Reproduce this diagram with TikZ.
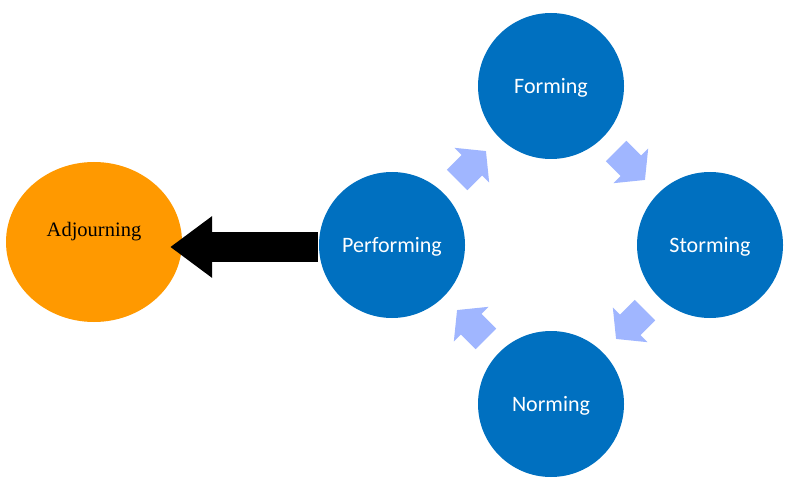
\documentclass[tikz,border=0pt]{standalone}
\usepackage{xcolor}
\usepackage{fontspec}
\setmainfont{Carlito}
\newfontfamily\adjfont{Liberation Serif}
\usepackage{tikz}
\usetikzlibrary{arrows.meta,calc,shapes.geometric}

\definecolor{stageblue}{RGB}{0,112,192}
\definecolor{stepblue}{RGB}{160,182,255}
\definecolor{adjorange}{RGB}{255,153,0}

\begin{document}
\begin{tikzpicture}[x=1pt,y=-1pt,
    stage/.style={fill=stageblue,draw=none,text=white,shape=circle,minimum size=146pt,inner sep=0pt,text height=19pt,text depth=4pt,font=\fontsize{22}{26}\selectfont},
    flow/.style={draw=stepblue,line width=29pt,-{Triangle[length=20pt,width=48pt]}}]
                    \useasboundingbox (0,0) rectangle (794,489);
                    \node[stage] (F) at (551,86) {Forming};
                    \node[stage] (S) at (710,245) {Storming};
                    \node[stage] (N) at (551,404) {Norming};
                    \node[stage] (P) at (392,245) {Performing};
                    \node[fill=adjorange,draw=none,text=black,shape=ellipse,minimum width=176pt,minimum height=160pt,inner sep=0pt,text height=14pt,text depth=26pt,font=\adjfont\fontsize{20.5}{24}\selectfont] (A) at (94,242) {Adjourning};

                    \draw[flow] ($(P)!0.409!(F)$) -- ($(P)!0.591!(F)$);
                    \draw[flow] ($(F)!0.409!(S)$) -- ($(F)!0.591!(S)$);
                    \draw[flow] ($(S)!0.409!(N)$) -- ($(S)!0.591!(N)$);
                    \draw[flow] ($(N)!0.409!(P)$) -- ($(N)!0.591!(P)$);

                    \draw[line width=30pt,-{Triangle[length=42pt,width=59pt]}] ($(P.west)+(-1,2)$) -- ($(A.east |- P.west)+(-12,2)$);
                \end{tikzpicture}
\end{document}
